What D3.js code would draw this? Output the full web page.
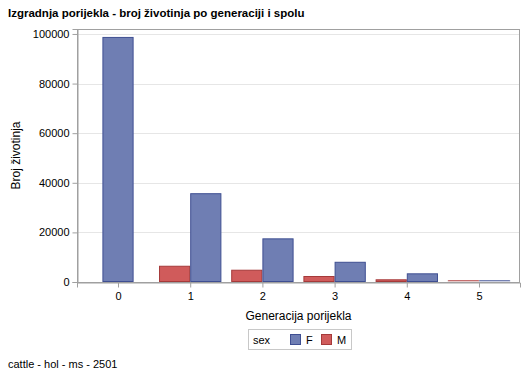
<!DOCTYPE html>
<html><head><meta charset="utf-8">
<script src="https://cdn.jsdelivr.net/npm/d3@7"></script>
<style>body{margin:0;background:#fff}svg{display:block;font-family:"Liberation Sans",Arial,sans-serif}</style>
</head><body>
<script>
const categories = ["0","1","2","3","4","5"];
const groups = ["F","M"];
const valuesF = [98800, 35800, 17600, 8150, 3500, 450];
const valuesM = [null, 6550, 4950, 2420, 1090, 400];
const yTicks = [0, 20000, 40000, 60000, 80000, 100000];
const title = "Izgradnja porijekla - broj životinja po generaciji i spolu";
const xLabel = "Generacija porijekla";
const yLabel = "Broj životinja";
const footnote = "cattle - hol - ms - 2501";
const legendTitle = "sex";

const W = 529, H = 378;
const m = {left: 77, right: 9, top: 29, bottom: 96};
const svg = d3.select("body").append("svg").attr("width", W).attr("height", H);

const x = d3.scalePoint().domain(categories).range([m.left, W - m.right]).padding(0.568);
const y = d3.scaleLinear().domain([0, 102000]).range([H - m.bottom, m.top]);
const colors = {F: {fill: "#6f7eb3", stroke: "#3f4f92"}, M: {fill: "#d05b5b", stroke: "#a53a3a"}};
const barW = x.step() * 0.432;

// gridlines
svg.append("g").selectAll("line").data(yTicks.filter(d => d > 0)).join("line")
  .attr("x1", m.left).attr("x2", W - m.right)
  .attr("y1", d => Math.round(y(d)) + 0.5).attr("y2", d => Math.round(y(d)) + 0.5)
  .attr("stroke", "#e6e6e6");

// bars
const data = categories.map((c, i) => {
  const present = [];
  if (valuesM[i] != null) present.push({g: "M", v: valuesM[i]});
  if (valuesF[i] != null) present.push({g: "F", v: valuesF[i]});
  return {c, present};
});
const bars = [];
data.forEach(d => {
  const n = d.present.length;
  d.present.forEach((p, k) => {
    bars.push({c: d.c, g: p.g, v: p.v, x0: x(d.c) - n * barW / 2 + k * barW});
  });
});
svg.append("g").selectAll("rect").data(bars).join("rect")
  .attr("x", d => d.x0 + 0.5).attr("width", barW - 1)
  .attr("y", d => Math.min(y(d.v) + 0.5, y(0) - 1.5)).attr("height", d => Math.max(0.5, y(0) - y(d.v) - 1))
  .attr("fill", d => colors[d.g].fill).attr("stroke", d => colors[d.g].stroke)
  .attr("stroke-opacity", d => d.v < 1000 ? 0.55 : 1);

// frame
svg.append("rect").attr("x", m.left + 0.5).attr("y", m.top + 0.5)
  .attr("width", W - m.right - m.left - 1).attr("height", H - m.bottom - m.top)
  .attr("fill", "none").attr("stroke", "#a0a0a0");

// axes
const yAxis = d3.axisLeft(y).tickValues(yTicks).tickSize(5).tickPadding(3).tickFormat(d3.format("d"));
const gy = svg.append("g").attr("transform", `translate(${m.left + 0.5},0)`).call(yAxis);
const xAxis = d3.axisBottom(x).tickSize(5).tickPadding(5);
const gx = svg.append("g").attr("transform", `translate(0,${H - m.bottom + 0.5})`).call(xAxis);
[gy, gx].forEach(g => {
  g.select(".domain").attr("stroke", "#a0a0a0");
  g.selectAll(".tick line").attr("stroke", "#a0a0a0");
  g.selectAll("text").attr("font-size", 11).attr("fill", "#000").attr("font-family", "Liberation Sans, Arial, sans-serif");
});

// titles
svg.append("text").attr("x", 8).attr("y", 17).text(title)
  .attr("font-size", 11.5).attr("font-weight", "bold");
svg.append("text").attr("x", (m.left + W - m.right) / 2).attr("y", 320).attr("text-anchor", "middle")
  .text(xLabel).attr("font-size", 12);
svg.append("text").attr("transform", `translate(20,${(m.top + H - m.bottom) / 2}) rotate(-90)`)
  .attr("text-anchor", "middle").text(yLabel).attr("font-size", 12);
svg.append("text").attr("x", 8).attr("y", 368).text(footnote).attr("font-size", 11);

// legend
const lg = svg.append("g").attr("transform", "translate(248,329)");
lg.append("rect").attr("x", 0.5).attr("y", 0.5).attr("width", 103).attr("height", 20)
  .attr("fill", "#fff").attr("stroke", "#c8c8c8");
lg.append("text").attr("x", 5).attr("y", 14.5).text(legendTitle).attr("font-size", 11);
groups.forEach((g, i) => {
  const gx0 = 42 + i * 31;
  lg.append("rect").attr("x", gx0 + 0.5).attr("y", 5.5).attr("width", 10).attr("height", 10)
    .attr("fill", colors[g].fill).attr("stroke", colors[g].stroke);
  lg.append("text").attr("x", gx0 + 16).attr("y", 14.5).text(g).attr("font-size", 11);
});
</script>
</body></html>
